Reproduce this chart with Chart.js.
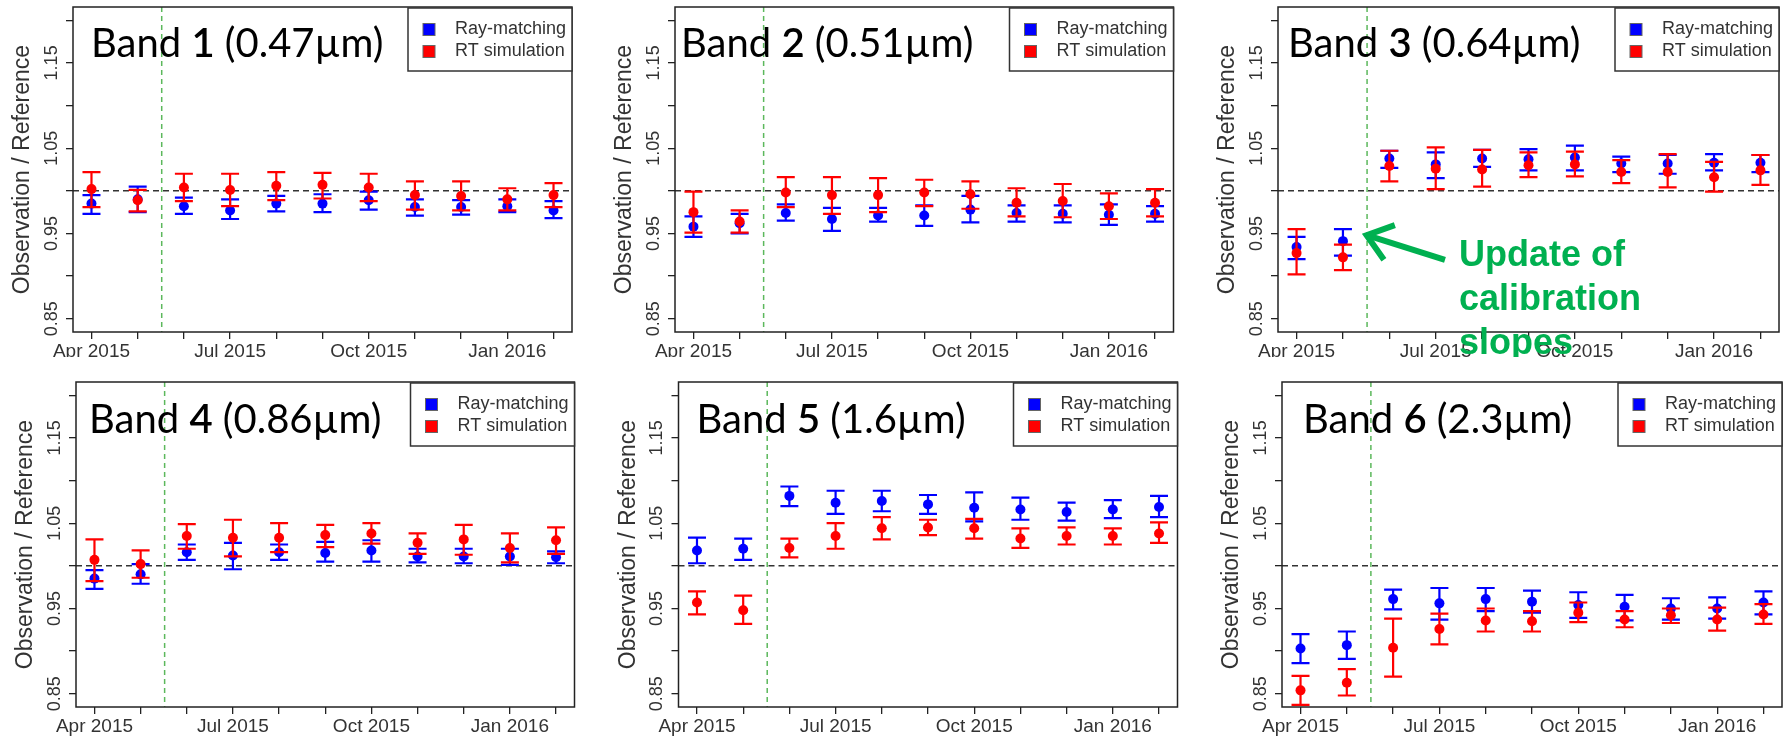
<!DOCTYPE html>
<html>
<head>
<meta charset="utf-8">
<script src="https://cdn.jsdelivr.net/npm/chart.js@4.4.1/dist/chart.umd.min.js"></script>
<style>
  html, body { margin: 0; padding: 0; background: #fff; }
  body { width: 1787px; height: 737px; position: relative; overflow: hidden; }
  .panel { position: absolute; }
  .panel canvas { display: block; }
</style>
</head>
<body>
<div class="panel" style="left:0px;top:0px"><canvas id="c1" width="600" height="357"></canvas></div>
<div class="panel" style="left:600px;top:0px"><canvas id="c2" width="595" height="357"></canvas></div>
<div class="panel" style="left:1195px;top:0px"><canvas id="c3" width="592" height="357"></canvas></div>
<div class="panel" style="left:0px;top:357px"><canvas id="c4" width="600" height="380"></canvas></div>
<div class="panel" style="left:600px;top:357px"><canvas id="c5" width="595" height="380"></canvas></div>
<div class="panel" style="left:1195px;top:357px"><canvas id="c6" width="592" height="380"></canvas></div>
<script>
// months Apr 2015 .. Feb 2016, x = month index
const monthLabels = ['Apr 2015', '', '', 'Jul 2015', '', '', 'Oct 2015', '', '', 'Jan 2016', ''];
const yTicks = [0.85, 0.90, 0.95, 1.00, 1.05, 1.10, 1.15, 1.20];
const yTickLabels = ['0.85', '', '0.95', '', '1.05', '', '1.15', ''];
const bandNums = ['1', '2', '3', '4', '5', '6'];
const bandWaves = ['0.47µm', '0.51µm', '0.64µm', '0.86µm', '1.6µm', '2.3µm'];
const slopeUpdate = 1.52; // mid May 2015

// [value, lower, upper]
const ray1 = [[0.985,0.973,0.995],[0.990,0.975,1.005],[0.982,0.973,0.992],[0.977,0.967,0.990],[0.985,0.976,0.994],[0.985,0.975,0.996],[0.989,0.978,0.999],[0.981,0.971,0.990],[0.981,0.972,0.989],[0.982,0.975,0.990],[0.977,0.968,0.988]];
const rt1  = [[1.002,0.981,1.022],[0.989,0.976,1.001],[1.004,0.988,1.020],[1.001,0.982,1.020],[1.006,0.989,1.022],[1.007,0.991,1.021],[1.004,0.988,1.020],[0.995,0.978,1.011],[0.994,0.977,1.011],[0.990,0.977,1.003],[0.995,0.981,1.009]];
const ray2 = [[0.958,0.946,0.970],[0.962,0.950,0.973],[0.974,0.965,0.984],[0.967,0.953,0.980],[0.971,0.964,0.980],[0.971,0.959,0.983],[0.978,0.963,0.994],[0.974,0.964,0.983],[0.973,0.963,0.983],[0.972,0.960,0.984],[0.973,0.964,0.982]];
const rt2  = [[0.975,0.951,0.999],[0.964,0.951,0.977],[0.998,0.981,1.016],[0.995,0.973,1.016],[0.995,0.975,1.015],[0.998,0.982,1.013],[0.996,0.979,1.011],[0.986,0.970,1.003],[0.988,0.969,1.008],[0.982,0.967,0.997],[0.986,0.970,1.002]];
const ray3 = [[0.934,0.920,0.946],[0.941,0.924,0.955],[1.038,1.027,1.047],[1.031,1.015,1.045],[1.038,1.028,1.048],[1.037,1.024,1.049],[1.039,1.024,1.053],[1.032,1.022,1.040],[1.032,1.020,1.042],[1.033,1.024,1.043],[1.033,1.022,1.042]];
const rt3  = [[0.927,0.902,0.955],[0.922,0.907,0.937],[1.029,1.011,1.047],[1.026,1.002,1.051],[1.025,1.005,1.048],[1.030,1.016,1.045],[1.031,1.017,1.046],[1.022,1.009,1.036],[1.022,1.004,1.043],[1.016,0.999,1.034],[1.024,1.007,1.042]];
const ray4 = [[0.985,0.973,0.995],[0.990,0.979,1.002],[1.016,1.007,1.025],[1.012,0.996,1.027],[1.016,1.007,1.025],[1.015,1.005,1.028],[1.018,1.005,1.030],[1.011,1.004,1.020],[1.011,1.003,1.020],[1.011,1.001,1.020],[1.010,1.003,1.017]];
const rt4  = [[1.007,0.982,1.031],[1.002,0.986,1.018],[1.035,1.020,1.049],[1.033,1.011,1.054],[1.033,1.016,1.050],[1.036,1.022,1.048],[1.038,1.026,1.050],[1.027,1.014,1.038],[1.031,1.013,1.048],[1.021,1.004,1.038],[1.030,1.014,1.045]];
const ray5 = [[1.018,1.003,1.033],[1.020,1.007,1.032],[1.082,1.070,1.093],[1.074,1.061,1.088],[1.076,1.064,1.088],[1.072,1.061,1.083],[1.068,1.052,1.086],[1.066,1.054,1.080],[1.063,1.053,1.074],[1.066,1.056,1.077],[1.069,1.057,1.082]];
const rt5  = [[0.957,0.943,0.970],[0.948,0.932,0.965],[1.021,1.010,1.032],[1.035,1.020,1.050],[1.044,1.031,1.057],[1.045,1.036,1.054],[1.044,1.032,1.055],[1.032,1.021,1.044],[1.035,1.025,1.045],[1.035,1.025,1.044],[1.038,1.027,1.051]];
const ray6 = [[0.903,0.886,0.920],[0.907,0.891,0.923],[0.961,0.949,0.972],[0.956,0.937,0.974],[0.961,0.947,0.974],[0.958,0.945,0.971],[0.954,0.939,0.969],[0.952,0.936,0.966],[0.950,0.937,0.962],[0.950,0.938,0.963],[0.957,0.943,0.970]];
const rt6  = [[0.854,0.837,0.871],[0.863,0.848,0.879],[0.904,0.870,0.938],[0.926,0.908,0.944],[0.936,0.923,0.950],[0.935,0.923,0.947],[0.945,0.934,0.957],[0.937,0.928,0.947],[0.942,0.933,0.950],[0.937,0.924,0.951],[0.943,0.932,0.955]];

const rayData = [ray1, ray2, ray3, ray4, ray5, ray6];
const rtData = [rt1, rt2, rt3, rt4, rt5, rt6];

// plot boxes in page pixels (left, top, right, bottom) and canvas origins
const boxes = [
  [73, 7, 572, 332], [675, 7, 1173.5, 332], [1278, 7, 1779, 332],
  [76, 382, 574.5, 707], [678.5, 382, 1177.5, 707], [1282, 382, 1782.5, 707]
];
const colX = [0, 600, 1195];
const rowY = [0, 357];
const titleOffsets = [[18, 50], [6, 50], [10, 50], [13, 51], [18, 51], [21, 51]];

const FONT = "'Liberation Sans', Arial, sans-serif";
Chart.defaults.font.family = FONT;

function toPoints(arr) {
  return arr.map((d, i) => ({ x: i, y: d[0], lo: d[1], hi: d[2] }));
}

const decoPlugin = {
  id: 'panelDeco',
  beforeDatasetsDraw(chart) {
    const { ctx, chartArea: a, scales: { x, y } } = chart;
    ctx.save();
    ctx.lineWidth = 1.5;
    ctx.setLineDash([6, 4]);
    ctx.strokeStyle = '#333';
    const y1 = y.getPixelForValue(1);
    ctx.beginPath(); ctx.moveTo(a.left, y1); ctx.lineTo(a.right, y1); ctx.stroke();
    ctx.setLineDash([5, 4]);
    ctx.strokeStyle = '#5cb85c';
    const xv = x.getPixelForValue(slopeUpdate);
    ctx.beginPath(); ctx.moveTo(xv, a.top); ctx.lineTo(xv, a.bottom); ctx.stroke();
    ctx.restore();
  },
  beforeDatasetDraw(chart, args) {
    const { ctx, chartArea: a, scales: { y } } = chart;
    const ds = chart.data.datasets[args.index];
    ctx.save();
    ctx.beginPath(); ctx.rect(a.left, a.top, a.right - a.left, a.bottom - a.top); ctx.clip();
    ctx.strokeStyle = ds.borderColor;
    ctx.lineWidth = 2.2;
    args.meta.data.forEach((el, k) => {
      const d = ds.data[k];
      const yl = y.getPixelForValue(d.lo), yh = y.getPixelForValue(d.hi);
      ctx.beginPath();
      ctx.moveTo(el.x, yl); ctx.lineTo(el.x, yh);
      ctx.moveTo(el.x - 9, yl); ctx.lineTo(el.x + 9, yl);
      ctx.moveTo(el.x - 9, yh); ctx.lineTo(el.x + 9, yh);
      ctx.stroke();
    });
    ctx.restore();
  },
  afterDraw(chart, args, opts) {
    const { ctx, chartArea: a, scales: { x, y } } = chart;
    ctx.save();
    // box
    ctx.strokeStyle = '#222';
    ctx.lineWidth = 1.5;
    ctx.strokeRect(a.left, a.top, a.right - a.left, a.bottom - a.top);

    // y tick labels, rotated like R
    ctx.fillStyle = '#333';
    ctx.font = '18px ' + FONT;
    ctx.textAlign = 'center';
    ctx.textBaseline = 'middle';
    yTicks.forEach((v, k) => {
      if (!yTickLabels[k]) return;
      ctx.save();
      ctx.translate(a.left - 21, y.getPixelForValue(v));
      ctx.rotate(-Math.PI / 2);
      ctx.fillText(yTickLabels[k], 0, 0);
      ctx.restore();
    });
    // y title
    ctx.save();
    ctx.font = '23px ' + FONT;
    ctx.translate(a.left - 50, (a.top + a.bottom) / 2);
    ctx.rotate(-Math.PI / 2);
    ctx.fillText('Observation / Reference', 0, 0);
    ctx.restore();

    // band title
    ctx.fillStyle = '#000';
    ctx.textAlign = 'left';
    ctx.textBaseline = 'alphabetic';
    let tx = a.left + opts.title[0];
    const ty = a.top + opts.title[1];
    const parts = [['Band ', 'normal'], [opts.num, '600'], [' (' + opts.wave + ')', 'normal']];
    parts.forEach(([t, w]) => {
      ctx.font = w + ' 40px Lato, ' + FONT;
      ctx.fillText(t, tx, ty);
      tx += ctx.measureText(t).width;
    });

    // legend
    const lw = 164, lh = 63;
    const lx = a.right - lw, ly = a.top + 1;
    ctx.fillStyle = '#fff';
    ctx.fillRect(lx, ly, lw, lh);
    ctx.strokeStyle = '#333';
    ctx.lineWidth = 1.5;
    ctx.strokeRect(lx, ly, lw, lh);
    ctx.font = '18px ' + FONT;
    ctx.textBaseline = 'middle';
    chart.data.datasets.forEach((ds, k) => {
      const cy = ly + 21.5 + k * 22;
      ctx.fillStyle = ds.backgroundColor;
      ctx.fillRect(lx + 15, cy - 6, 12, 12);
      ctx.strokeStyle = '#666';
      ctx.lineWidth = 1;
      ctx.strokeRect(lx + 15, cy - 6, 12, 12);
      ctx.fillStyle = '#333';
      ctx.fillText(ds.label, lx + 47, cy);
    });

    // annotation
    if (opts.note) {
      const n = opts.note;
      const green = '#00b050';
      const tipX = x.getPixelForValue(n.tip[0]), tipY = y.getPixelForValue(n.tip[1]);
      const tailX = x.getPixelForValue(n.tail[0]), tailY = y.getPixelForValue(n.tail[1]);
      const ang = Math.atan2(tipY - tailY, tipX - tailX);
      ctx.strokeStyle = green;
      ctx.lineWidth = 6;
      ctx.lineCap = 'butt';
      ctx.beginPath(); ctx.moveTo(tailX, tailY); ctx.lineTo(tipX, tipY); ctx.stroke();
      ctx.beginPath();
      ctx.moveTo(tipX - 30 * Math.cos(ang - 0.65), tipY - 30 * Math.sin(ang - 0.65));
      ctx.lineTo(tipX, tipY);
      ctx.lineTo(tipX - 30 * Math.cos(ang + 0.65), tipY - 30 * Math.sin(ang + 0.65));
      ctx.stroke();
      ctx.fillStyle = green;
      ctx.font = 'bold 36px ' + FONT;
      ctx.textBaseline = 'alphabetic';
      const nx = x.getPixelForValue(n.text[0]);
      const ny = y.getPixelForValue(n.text[1]);
      n.lines.forEach((t, k) => ctx.fillText(t, nx, ny + k * 44));
    }
    ctx.restore();
  }
};

function makePanel(i) {
  const canvas = document.getElementById('c' + (i + 1));
  const [L, T, R, B] = boxes[i];
  const ox = colX[i % 3], oy = rowY[Math.floor(i / 3)];
  const yW = L - ox, padTop = T - oy, padRight = ox + canvas.width - R, xH = oy + canvas.height - B;
  const deco = { num: bandNums[i], wave: bandWaves[i], title: titleOffsets[i] };
  if (i === 2) {
    deco.note = { tip: [1.51, 0.948], tail: [3.2, 0.919], text: [3.5, 0.912], lines: ['Update of', 'calibration', 'slopes'] };
  }
  new Chart(canvas, {
    type: 'scatter',
    data: {
      datasets: [
        { label: 'Ray-matching', data: toPoints(rayData[i]), backgroundColor: '#0000ff', borderColor: '#0000ff', pointRadius: 5, pointBorderWidth: 0, order: 2 },
        { label: 'RT simulation', data: toPoints(rtData[i]), backgroundColor: '#ff0000', borderColor: '#ff0000', pointRadius: 5, pointBorderWidth: 0, order: 1 }
      ]
    },
    options: {
      responsive: false,
      animation: false,
      events: [],
      layout: { padding: { left: 0, top: padTop, right: padRight, bottom: 0 } },
      scales: {
        x: {
          type: 'linear', min: -0.4, max: 10.4, bounds: 'data',
          afterBuildTicks: s => { s.ticks = monthLabels.map((_, k) => ({ value: k })); },
          afterFit: s => { s.height = xH; },
          ticks: { autoSkip: false, maxRotation: 0, minRotation: 0, padding: 1, color: '#333', font: { size: 19 }, callback: (v, k) => monthLabels[k] },
          grid: { drawOnChartArea: false, drawTicks: true, tickLength: 7, color: '#222', lineWidth: 1.3 },
          border: { display: false }
        },
        y: {
          type: 'linear', min: 0.8345, max: 1.2155, bounds: 'data',
          afterBuildTicks: s => { s.ticks = yTicks.map(v => ({ value: v })); },
          afterFit: s => { s.width = yW; },
          ticks: { display: false },
          grid: { drawOnChartArea: false, drawTicks: true, tickLength: 7, color: '#222', lineWidth: 1.3 },
          border: { display: false }
        }
      },
      plugins: { legend: { display: false }, tooltip: { enabled: false }, panelDeco: deco }
    },
    plugins: [decoPlugin]
  });
}

for (let i = 0; i < 6; i++) makePanel(i);
</script>
</body>
</html>
